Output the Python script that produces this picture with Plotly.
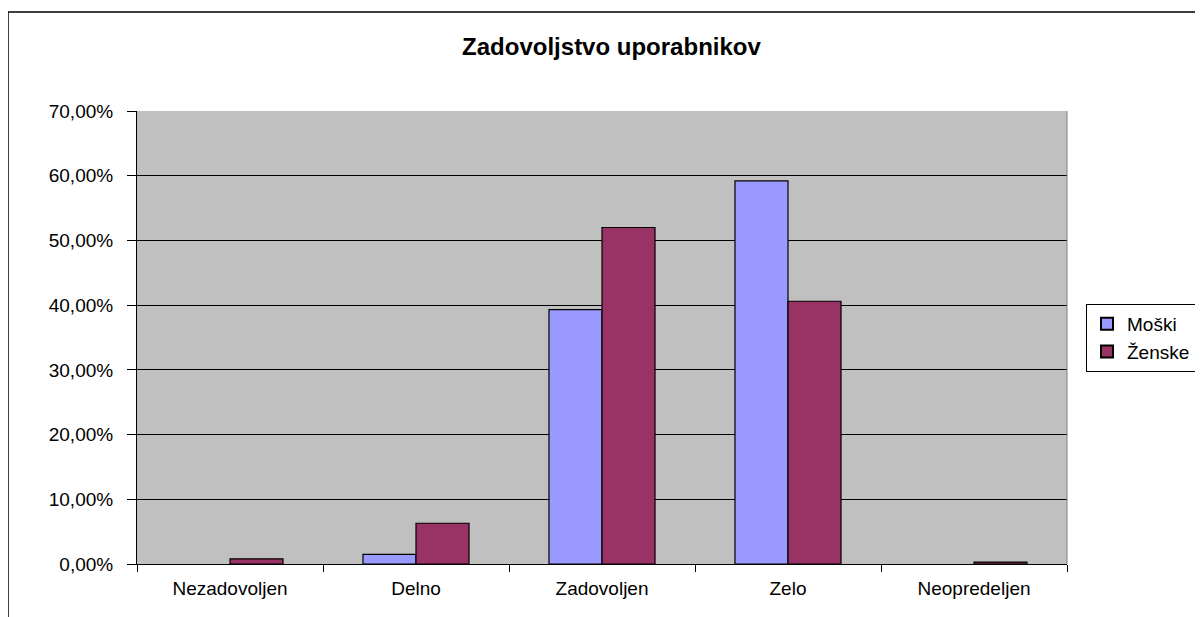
import plotly.graph_objects as go

categories = ["Nezadovoljen", "Delno", "Zadovoljen", "Zelo", "Neopredeljen"]
moski = [0.0, 1.5, 39.3, 59.2, 0.0]
zenske = [0.8, 6.3, 52.0, 40.6, 0.3]
series_names = ["Moški", "Ženske"]
y_ticks = [0, 0.1, 0.2, 0.3, 0.4, 0.5, 0.6, 0.7]

OFF = 8  # default page body margin
W, H = 1203 - OFF, 617 - OFF
L, R = 137 - OFF, 1067 - OFF
T, B = 111 - OFF, 564 - OFF

def px_x(p):
    return (p - OFF - L) / (R - L)

def px_y(p):
    return (B - (p - OFF)) / (B - T)

def outline(vals):
    return [0 if v == 0 else 1.2 for v in vals]

fig = go.Figure()
fig.add_trace(go.Bar(
    x=categories, y=[v / 100 for v in moski], name=series_names[0],
    marker=dict(color="#9999FF", line=dict(color="black", width=outline(moski))),
))
fig.add_trace(go.Bar(
    x=categories, y=[v / 100 for v in zenske], name=series_names[1],
    marker=dict(color="#993366", line=dict(color="black", width=outline(zenske))),
))

font = "Arial, Liberation Sans, sans-serif"

fig.update_layout(
    width=W, height=H,
    margin=dict(l=L, r=W - R, t=T, b=H - B, autoexpand=False),
    paper_bgcolor="white",
    plot_bgcolor="#C0C0C0",
    separators=",.",
    barmode="group",
    bargap=0.43,
    bargroupgap=0,
    font=dict(family=font, size=19, color="black"),
    title=dict(text="<b>Zadovoljstvo uporabnikov</b>", x=0.505, xanchor="center",
               y=1 - (47 - OFF) / H, yanchor="middle", yref="container",
               font=dict(family=font, size=24, color="black")),
    xaxis=dict(
        type="category", tickson="boundaries", ticks="outside", ticklen=7,
        tickcolor="black", tickwidth=1, showline=True, linecolor="black", linewidth=1,
        showgrid=False, tickfont=dict(size=19), ticklabelstandoff=7,
    ),
    yaxis=dict(
        range=[0, 0.7], tickvals=y_ticks, tickformat=".2%", ticks="outside", ticklen=9,
        tickcolor="black", tickwidth=1, showline=True, linecolor="black", linewidth=1,
        showgrid=True, gridcolor="black", gridwidth=1, zeroline=False,
        tickfont=dict(size=19), ticklabelstandoff=10,
    ),
    legend=dict(
        x=px_x(1086), y=px_y(304), xanchor="left", yanchor="top",
        bgcolor="white", bordercolor="black", borderwidth=1,
        font=dict(size=19), tracegroupgap=0, itemsizing="constant",
    ),
    shapes=[
        dict(type="line", xref="paper", yref="paper", x0=1, x1=1, y0=0, y1=1,
             line=dict(color="#808080", width=1), layer="above"),
        dict(type="rect", xref="paper", yref="paper",
             x0=px_x(8), x1=px_x(1215), y0=px_y(12), y1=px_y(630),
             line=dict(color="black", width=1.5), layer="below"),
    ],
)

fig.write_html("out.html")
